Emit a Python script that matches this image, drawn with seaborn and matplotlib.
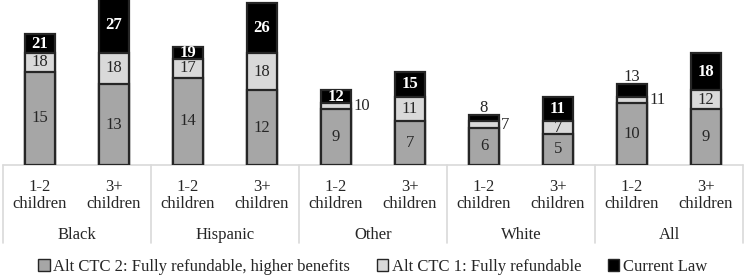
import pandas as pd
import seaborn as sns
import matplotlib.pyplot as plt
from matplotlib.patches import Patch
import matplotlib.transforms as mtransforms

# data (cumulative values per scenario)
groups = ['Black', 'Black', 'Hispanic', 'Hispanic', 'Other', 'Other',
          'White', 'White', 'All', 'All']
sizes = ['1-2', '3+', '1-2', '3+', '1-2', '3+', '1-2', '3+', '1-2', '3+']
alt2 = [15, 13, 14, 12, 9, 7, 6, 5, 10, 9]
alt1 = [18, 18, 17, 18, 10, 11, 7, 7, 11, 12]
current = [21, 27, 19, 26, 12, 15, 8, 11, 13, 18]

# label placement (style only)
mid_pos = ['in', 'in', 'in', 'in', 'right', 'in', 'right', 'in', 'right', 'in']
top_pos = ['in', 'in', 'in', 'in', 'in', 'in', 'above', 'in', 'above', 'in']

keys = [g + ' ' + s for g, s in zip(groups, sizes)]
df = pd.DataFrame({'key': keys, 'group': groups, 'size': sizes,
                   'alt2': alt2, 'alt1': alt1, 'current': current})

sns.set_style('white')
plt.rcParams['font.family'] = ['Liberation Serif', 'DejaVu Serif']

c_alt2 = '#a6a6a6'
c_alt1 = '#d9d9d9'
c_cur = '#000000'
edge = '#262626'

fig = plt.figure(figsize=(7.45, 2.79), dpi=100)
ax = fig.add_axes([3 / 745, 114 / 279, 740 / 745, 165 / 279])

# draw the tallest layer first so the smaller ones sit on top of it
for col, c in [('current', c_cur), ('alt1', c_alt1), ('alt2', c_alt2)]:
    sns.barplot(data=df, x='key', y=col, order=keys, color=c, saturation=1,
                width=0.4, edgecolor=edge, linewidth=1.6, ax=ax)

ax.set_xlim(-0.5, len(keys) - 0.5)
ax.set_ylim(0, 26.5)
sns.despine(ax=ax, left=True, bottom=True, top=True, right=True)
ax.set_xticks([])
ax.set_yticks([])
ax.set_xlabel('')
ax.set_ylabel('')
ax.axhline(0, color='#d9d9d9', lw=1.2, zorder=0, clip_on=False)

fs = 12
half = 0.2
for i in range(len(keys)):
    ax.text(i, alt2[i] / 2, str(alt2[i]), ha='center', va='center', fontsize=fs)
    if mid_pos[i] == 'in':
        ax.text(i, (alt2[i] + alt1[i]) / 2, str(alt1[i]), ha='center',
                va='center', fontsize=fs)
    else:
        ax.text(i + half + 0.03, (alt2[i] + alt1[i]) / 2, str(alt1[i]),
                ha='left', va='center', fontsize=fs)
    if top_pos[i] == 'in':
        ax.text(i, (alt1[i] + current[i]) / 2, str(current[i]), ha='center',
                va='center', fontsize=fs, color='white', fontweight='bold')
    else:
        ax.text(i, current[i] + 1.1, str(current[i]), ha='center',
                va='center', fontsize=fs)

# category labels below the axis
trans = mtransforms.blended_transform_factory(ax.transData, ax.transAxes)
for i in range(len(keys)):
    ax.text(i, -22 / 165, sizes[i], transform=trans, ha='center', va='center',
            fontsize=fs)
    ax.text(i, -39 / 165, 'children', transform=trans, ha='center',
            va='center', fontsize=fs)
group_names = ['Black', 'Hispanic', 'Other', 'White', 'All']
for j, g in enumerate(group_names):
    ax.text(2 * j + 0.5, -70 / 165, g, transform=trans, ha='center',
            va='center', fontsize=fs)
for b in [-0.5, 1.5, 3.5, 5.5, 7.5, 9.5]:
    ax.plot([b, b], [0, -78 / 165], transform=trans, color='#d9d9d9',
            lw=1.2, clip_on=False)

handles = [Patch(facecolor=c_alt2, edgecolor=edge, lw=1),
           Patch(facecolor=c_alt1, edgecolor=edge, lw=1),
           Patch(facecolor=c_cur, edgecolor=edge, lw=1)]
labels = ['Alt CTC 2: Fully refundable, higher benefits',
          'Alt CTC 1: Fully refundable', 'Current Law']
fig.legend(handles, labels, loc='center', bbox_to_anchor=(0.5, 1 - 267 / 279),
           ncol=3, frameon=False, fontsize=fs, handlelength=0.7,
           handleheight=0.7, handletextpad=0.2, columnspacing=1.6,
           borderpad=0, borderaxespad=0)

plt.savefig('out.png', dpi=100)
